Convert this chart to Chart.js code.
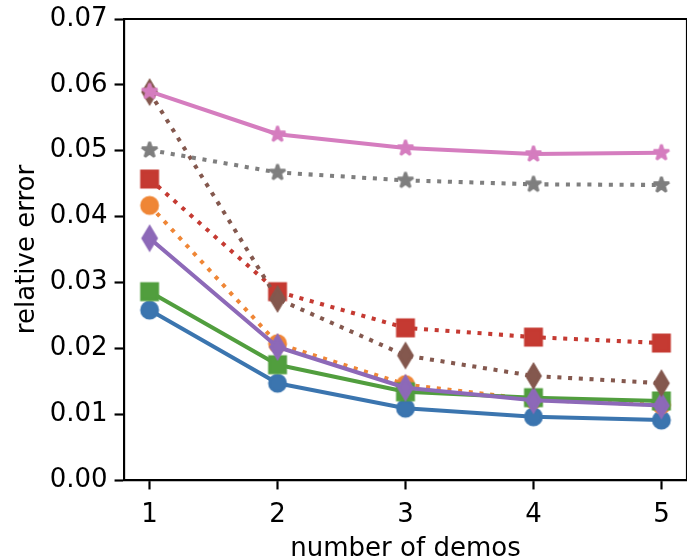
<!DOCTYPE html>
<html><head><meta charset="utf-8">
<script src="https://cdn.jsdelivr.net/npm/chart.js@4.4.0/dist/chart.umd.min.js"></script>
<style>html,body{margin:0;padding:0;background:#fff;overflow:hidden}#wrap{width:687px;height:556px;overflow:hidden;position:relative}canvas{display:block}</style>
</head><body><div id="wrap"><canvas id="c" width="688" height="556"></canvas></div>
<script>
// ---- data ----
const demos = [1, 2, 3, 4, 5];
const xTicks = [1, 2, 3, 4, 5];
const yTicks = [0, 0.01, 0.02, 0.03, 0.04, 0.05, 0.06, 0.07];
const blueCircle    = [0.0258, 0.0147, 0.0109, 0.0096, 0.0091];
const orangeCircle  = [0.0417, 0.0207, 0.0145, 0.0122, 0.0114];
const greenSquare   = [0.0286, 0.0175, 0.0134, 0.0125, 0.0120];
const redSquare     = [0.0457, 0.0286, 0.0231, 0.0217, 0.0208];
const purpleDiamond = [0.0367, 0.0202, 0.0140, 0.0121, 0.0113];
const brownDiamond  = [0.0589, 0.0275, 0.0189, 0.0158, 0.0147];
const pinkStar      = [0.0590, 0.0525, 0.0504, 0.0495, 0.0497];
const grayStar      = [0.0501, 0.0467, 0.0455, 0.0449, 0.0448];

const PT = 2.7;
const FONT = 'DejaVu Sans';
const FS = 26;

function marker(shape, color) {
  const s = 44, c = document.createElement('canvas');
  c.width = s; c.height = s;
  const g = c.getContext('2d');
  g.translate(s / 2, s / 2);
  g.fillStyle = color; g.strokeStyle = color; g.lineWidth = PT;
  const ms = 6 * PT;
  g.beginPath();
  if (shape === 'circle') {
    g.lineJoin = 'round';
    g.arc(0, 0, ms / 2, 0, Math.PI * 2);
  } else if (shape === 'square') {
    g.lineJoin = 'miter';
    g.rect(-ms / 2, -ms / 2, ms, ms);
  } else if (shape === 'thin_diamond') {
    g.lineJoin = 'miter';
    const h = ms * Math.SQRT1_2, w = h * 0.6;
    g.moveTo(0, -h); g.lineTo(w, 0); g.lineTo(0, h); g.lineTo(-w, 0); g.closePath();
  } else if (shape === 'star') {
    g.lineJoin = 'bevel';
    const ro = ms / 2, ri = ro * 0.381966;
    for (let i = 0; i < 10; i++) {
      const r = i % 2 === 0 ? ro : ri;
      const a = -Math.PI / 2 + i * Math.PI / 5;
      const px = r * Math.cos(a), py = r * Math.sin(a);
      if (i === 0) g.moveTo(px, py); else g.lineTo(px, py);
    }
    g.closePath();
  }
  g.fill(); g.stroke();
  return c;
}

const series = [
  { label: 'A', values: blueCircle,    color: '#3b75af', shape: 'circle',       dotted: false },
  { label: 'B', values: orangeCircle,  color: '#ef8636', shape: 'circle',       dotted: true  },
  { label: 'C', values: greenSquare,   color: '#519e3e', shape: 'square',       dotted: false },
  { label: 'D', values: redSquare,     color: '#c53a32', shape: 'square',       dotted: true  },
  { label: 'E', values: purpleDiamond, color: '#8d69b8', shape: 'thin_diamond', dotted: false },
  { label: 'F', values: brownDiamond,  color: '#84584e', shape: 'thin_diamond', dotted: true  },
  { label: 'G', values: pinkStar,      color: '#d57dbf', shape: 'star',         dotted: false },
  { label: 'H', values: grayStar,      color: '#7f7f7f', shape: 'star',         dotted: true  }
];

const datasets = series.map((s, i) => {
  const img = marker(s.shape, s.color);
  return {
    label: s.label,
    data: demos.map((x, j) => ({ x: x, y: s.values[j] })),
    borderColor: s.color,
    backgroundColor: s.color,
    borderWidth: 1.5 * PT,
    borderDash: s.dotted ? [1.5 * PT, 1.5 * PT * 1.65] : [],
    borderCapStyle: 'butt',
    borderJoinStyle: 'round',
    tension: 0,
    fill: false,
    pointStyle: img,
    pointRadius: 10,
    pointHoverRadius: 10,
    order: 20 - i
  };
});

const boxPlugin = {
  id: 'box',
  afterDraw(chart) {
    const { ctx, chartArea: a } = chart;
    ctx.save();
    ctx.strokeStyle = '#000';
    ctx.lineWidth = 0.8 * PT;
    ctx.beginPath();
    ctx.moveTo(a.left, a.top);
    ctx.lineTo(a.right, a.top);
    ctx.lineTo(a.right, a.bottom);
    ctx.stroke();
    ctx.restore();
  }
};

new Chart(document.getElementById('c'), {
  type: 'line',
  data: { datasets },
  plugins: [boxPlugin],
  options: {
    responsive: false,
    animation: false,
    devicePixelRatio: 1,
    events: [],
    layout: { autoPadding: false, padding: { top: 0, left: 0, right: 1, bottom: 0 } },
    plugins: { legend: { display: false }, tooltip: { enabled: false } },
    scales: {
      x: {
        type: 'linear',
        min: 0.8, max: 5.2,
        afterBuildTicks: s => { s.ticks = xTicks.map(v => ({ value: v })); },
        afterFit: s => { s.height = 76; s.paddingLeft = 0; s.paddingRight = 0; },
        ticks: { font: { family: FONT, size: FS, lineHeight: 1 }, color: '#000', padding: 13, maxRotation: 0, autoSkip: false },
        grid: { drawOnChartArea: false, tickLength: 3.5 * PT, tickWidth: 0.8 * PT, color: '#000' },
        border: { color: '#000', width: 0.8 * PT },
        title: { display: true, text: 'number of demos', color: '#000', font: { family: FONT, size: FS, lineHeight: 0.5 }, padding: { top: 0, bottom: 0 } }
      },
      y: {
        type: 'linear',
        min: 0, max: 0.07,
        afterBuildTicks: s => { s.ticks = yTicks.map(v => ({ value: v })); },
        afterFit: s => { s.width = 124; s.paddingTop = 19; s.paddingBottom = 0; },
        ticks: { callback: v => Number(v).toFixed(2), font: { family: FONT, size: FS, lineHeight: 1 }, color: '#000', padding: 7, autoSkip: false },
        grid: { drawOnChartArea: false, tickLength: 3.5 * PT, tickWidth: 0.8 * PT, color: '#000' },
        border: { color: '#000', width: 0.8 * PT },
        title: { display: true, text: 'relative error', color: '#000', font: { family: FONT, size: FS, lineHeight: 1 }, padding: { top: 14, bottom: 0 } }
      }
    }
  }
});
</script>
</body></html>
